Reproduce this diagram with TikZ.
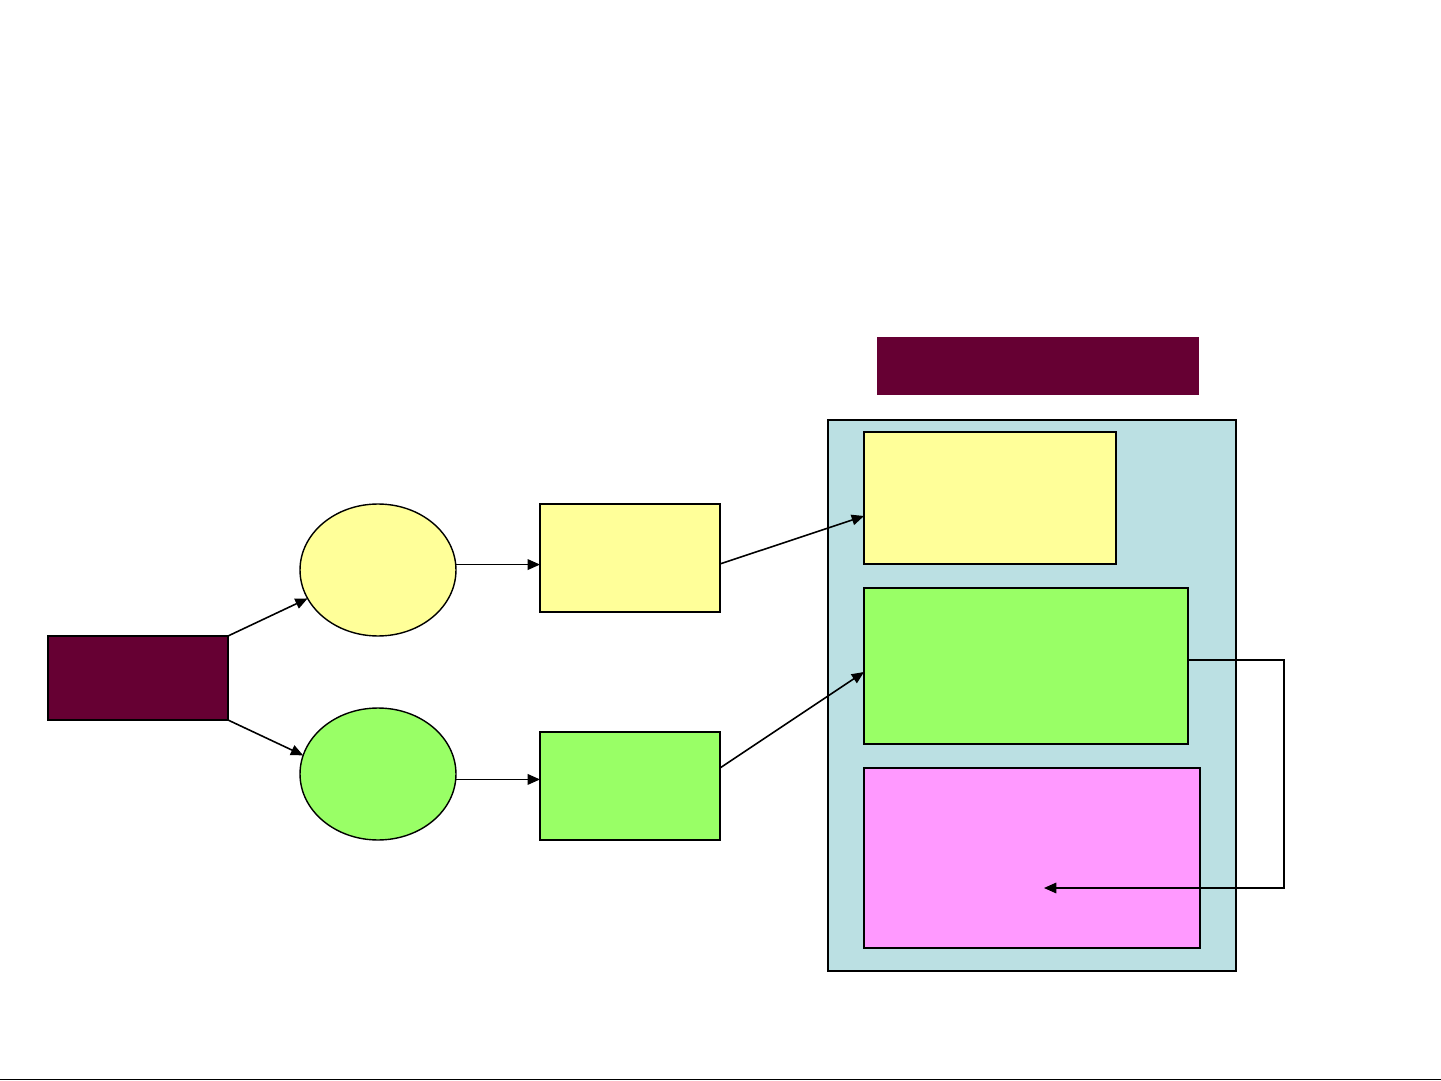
\documentclass[tikz,border=0pt]{standalone}
\usepackage{xcolor}
\usepackage{tikz}
\usetikzlibrary{
    positioning,
    arrows.meta,
    calc,
    shapes.geometric
}
\definecolor{wineRed}{RGB}{102, 0, 51}
\definecolor{paleYellow}{RGB}{255, 255, 153}
\definecolor{limeGreen}{RGB}{153, 255, 102}
\definecolor{paleBlue}{RGB}{187, 224, 227}
\definecolor{palePink}{RGB}{255, 153, 255}

\begin{document}
\begin{tikzpicture}[x=0.02cm, y=-0.02cm,
        box/.style={draw, line width=1.1pt, rectangle, inner sep=0pt, outer sep=0pt},
        oval/.style={draw, line width=0.8pt, ellipse, inner sep=0pt, outer sep=0pt,
            minimum width=3.12cm, minimum height=2.64cm},
        link/.style={-{Triangle[length=7pt, width=6pt]}, line width=0.9pt}
    ]
            \useasboundingbox (0,0) rectangle (1441,1081);

            % left part
            \node[box, fill=wineRed, minimum width=3.6cm, minimum height=1.68cm] (src) at (138,678) {};
            \node[oval, fill=paleYellow] (ylwEll) at (378,570) {};
            \node[oval, fill=limeGreen] (grnEll) at (378,774) {};
            \node[box, fill=paleYellow, minimum width=3.6cm, minimum height=2.16cm] (ylwBox) at (630,558) {};
            \node[box, fill=limeGreen, minimum width=3.6cm, minimum height=2.16cm] (grnBox) at (630,786) {};

            % right part
            \node[fill=wineRed, inner sep=0pt, minimum width=6.44cm, minimum height=1.16cm] (title) at (1038,366) {};
            \node[box, fill=paleBlue, minimum width=8.16cm, minimum height=11.02cm] (store) at (1032,695.5) {};
            \node[box, fill=paleYellow, minimum width=5.04cm, minimum height=2.64cm] (inYlw) at (990,498) {};
            \node[box, fill=limeGreen, minimum width=6.48cm, minimum height=3.12cm] (inGrn) at (1026,666) {};
            \node[box, fill=palePink, minimum width=6.72cm, minimum height=3.6cm] (inPink) at (1032,858) {};

            \coordinate (loopR) at (1284,888);
            \coordinate (loopEnd) at (1044,888);

            % arrows
            \draw[link] (src.north east) -- (ylwEll.202);
            \draw[link] (src.south east) -- (grnEll.166);
            \draw[link] (ylwEll.4) -- (ylwEll.4 -| ylwBox.west);
            \draw[link] (grnEll.-4) -- (grnEll.-4 -| grnBox.west);
            \draw[link] ([yshift=-0.12cm]ylwBox.east) -- ([yshift=-0.36cm]inYlw.west);
            \draw[link] ([yshift=0.36cm]grnBox.east) -- ([yshift=-0.12cm]inGrn.west);
            \draw[link] ([yshift=0.12cm]inGrn.east) -- ([yshift=0.12cm]inGrn.east -| loopR) -- (loopR) -- (loopEnd);

            % bottom rule
            \coordinate (ruleL) at (0,1079.5);
            \coordinate (ruleR) at (1441,1079.5);
            \draw[line width=1.1pt] (ruleL) -- (ruleR);
        \end{tikzpicture}
\end{document}
